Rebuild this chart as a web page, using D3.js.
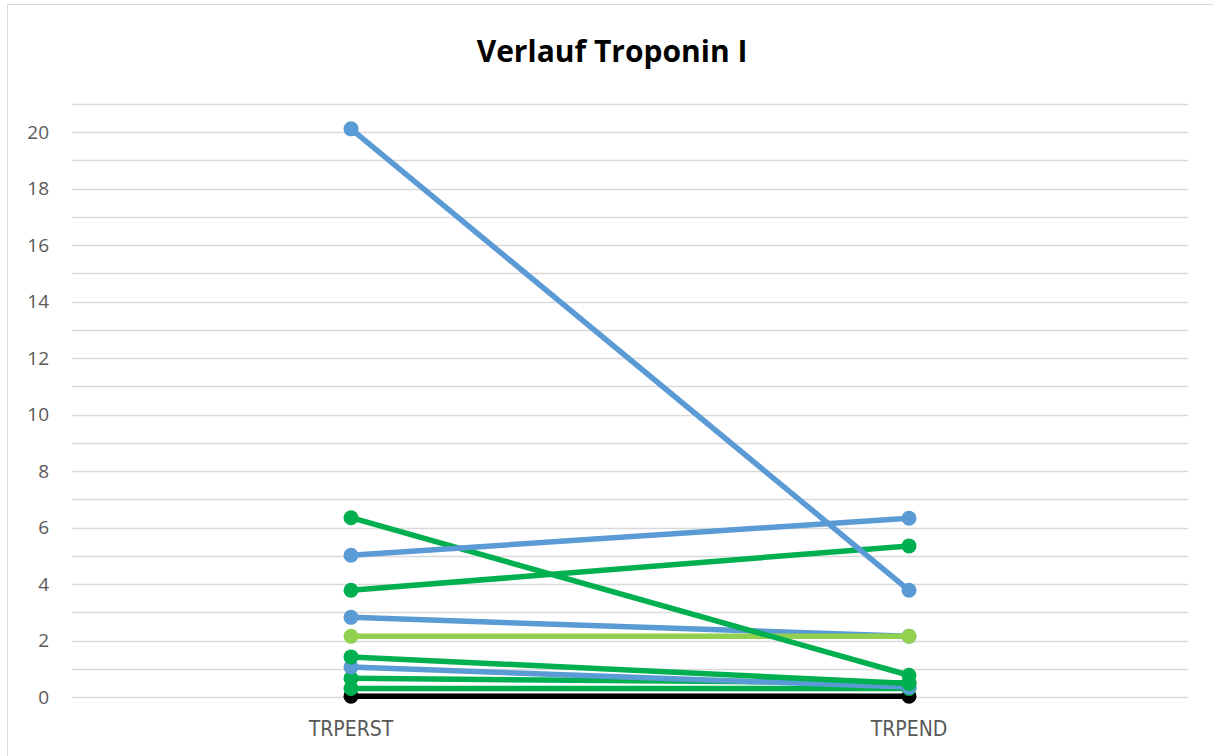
<!DOCTYPE html>
<html>
<head>
<meta charset="utf-8">
<script src="https://cdn.jsdelivr.net/npm/d3@7"></script>
<style>
  html, body { margin: 0; padding: 0; background: #fff; }
  svg { display: block; }
</style>
</head>
<body>
<svg id="chart" width="1213" height="756"></svg>
<script>
// Messzeitpunkte
const categories = ["TRPERST", "TRPEND"];

// Troponin-I-Werte je Patient (Erst- und Endwert)
const seriesValues = [
  [0.03, 0.03],
  [0.30, 0.30],
  [0.66, 0.50],
  [1.06, 0.35],
  [1.42, 0.48],
  [2.82, 2.15],
  [2.15, 2.15],
  [3.78, 5.35],
  [6.35, 0.77],
  [5.02, 6.33],
  [20.12, 3.78]
];
const seriesColors = [
  "#000000", "#00B050", "#00B050", "#5B9BD5", "#00B050",
  "#5B9BD5", "#92D050", "#00B050", "#00B050", "#5B9BD5", "#5B9BD5"
];

const yTicks = [0, 2, 4, 6, 8, 10, 12, 14, 16, 18, 20];
const yGrid = d3.range(0, 22, 1);

const svg = d3.select("#chart");
const W = 1213, H = 756;
const margin = { left: 72, right: 25, top: 104, bottom: 59 };

// Rahmen des Diagrammbereichs
svg.append("rect")
  .attr("x", 7.5).attr("y", 4.5)
  .attr("width", W + 20).attr("height", H + 20)
  .attr("fill", "#fff").attr("stroke", "#d9d9d9").attr("stroke-width", 1);

const x = d3.scaleBand().domain(categories)
  .range([margin.left, W - margin.right]);
const y = d3.scaleLinear().domain([0, 21])
  .range([H - margin.bottom, margin.top]);

// Gitternetzlinien
svg.append("g").selectAll("line").data(yGrid).join("line")
  .attr("x1", margin.left).attr("x2", W - margin.right)
  .attr("y1", d => Math.round(y(d)) + 0.5).attr("y2", d => Math.round(y(d)) + 0.5)
  .attr("stroke", "#d9d9d9").attr("stroke-width", 1.5);

// y-Achse
const yAxis = svg.append("g")
  .attr("transform", `translate(${margin.left - 23},0)`)
  .call(d3.axisLeft(y).tickValues(yTicks).tickSize(0).tickPadding(0));
yAxis.select(".domain").remove();
yAxis.selectAll("text")
  .attr("fill", "#595959")
  .style("font-family", "'Open Sans', sans-serif")
  .style("font-size", "19px");

// x-Achse
const xAxis = svg.append("g")
  .attr("transform", `translate(0,${H - margin.bottom + 24})`)
  .call(d3.axisBottom(x).tickSize(0).tickPadding(0));
xAxis.select(".domain").remove();
xAxis.selectAll("text")
  .attr("fill", "#595959")
  .style("font-family", "'Liberation Sans Narrow', 'DejaVu Sans Condensed', sans-serif")
  .style("font-size", "21px");

// Linien und Marker
const line = d3.line()
  .x((d, i) => x(categories[i]) + x.bandwidth() / 2)
  .y(d => y(d));

const series = svg.append("g").selectAll("g").data(seriesValues).join("g");
series.append("path")
  .attr("d", d => line(d))
  .attr("fill", "none")
  .attr("stroke", (d, i) => seriesColors[i])
  .attr("stroke-width", 5.5)
  .attr("stroke-linecap", "round");
series.each(function(d, i) {
  d3.select(this).selectAll("circle").data(d).join("circle")
    .attr("cx", (v, j) => x(categories[j]) + x.bandwidth() / 2)
    .attr("cy", v => y(v))
    .attr("r", 7.5)
    .attr("fill", seriesColors[i]);
});

// Titel
svg.append("text")
  .attr("x", 612).attr("y", 62)
  .attr("text-anchor", "middle")
  .style("font-family", "'Open Sans', sans-serif")
  .style("font-weight", "bold")
  .style("font-size", "30px")
  .attr("fill", "#000")
  .text("Verlauf Troponin I");
</script>
</body>
</html>
